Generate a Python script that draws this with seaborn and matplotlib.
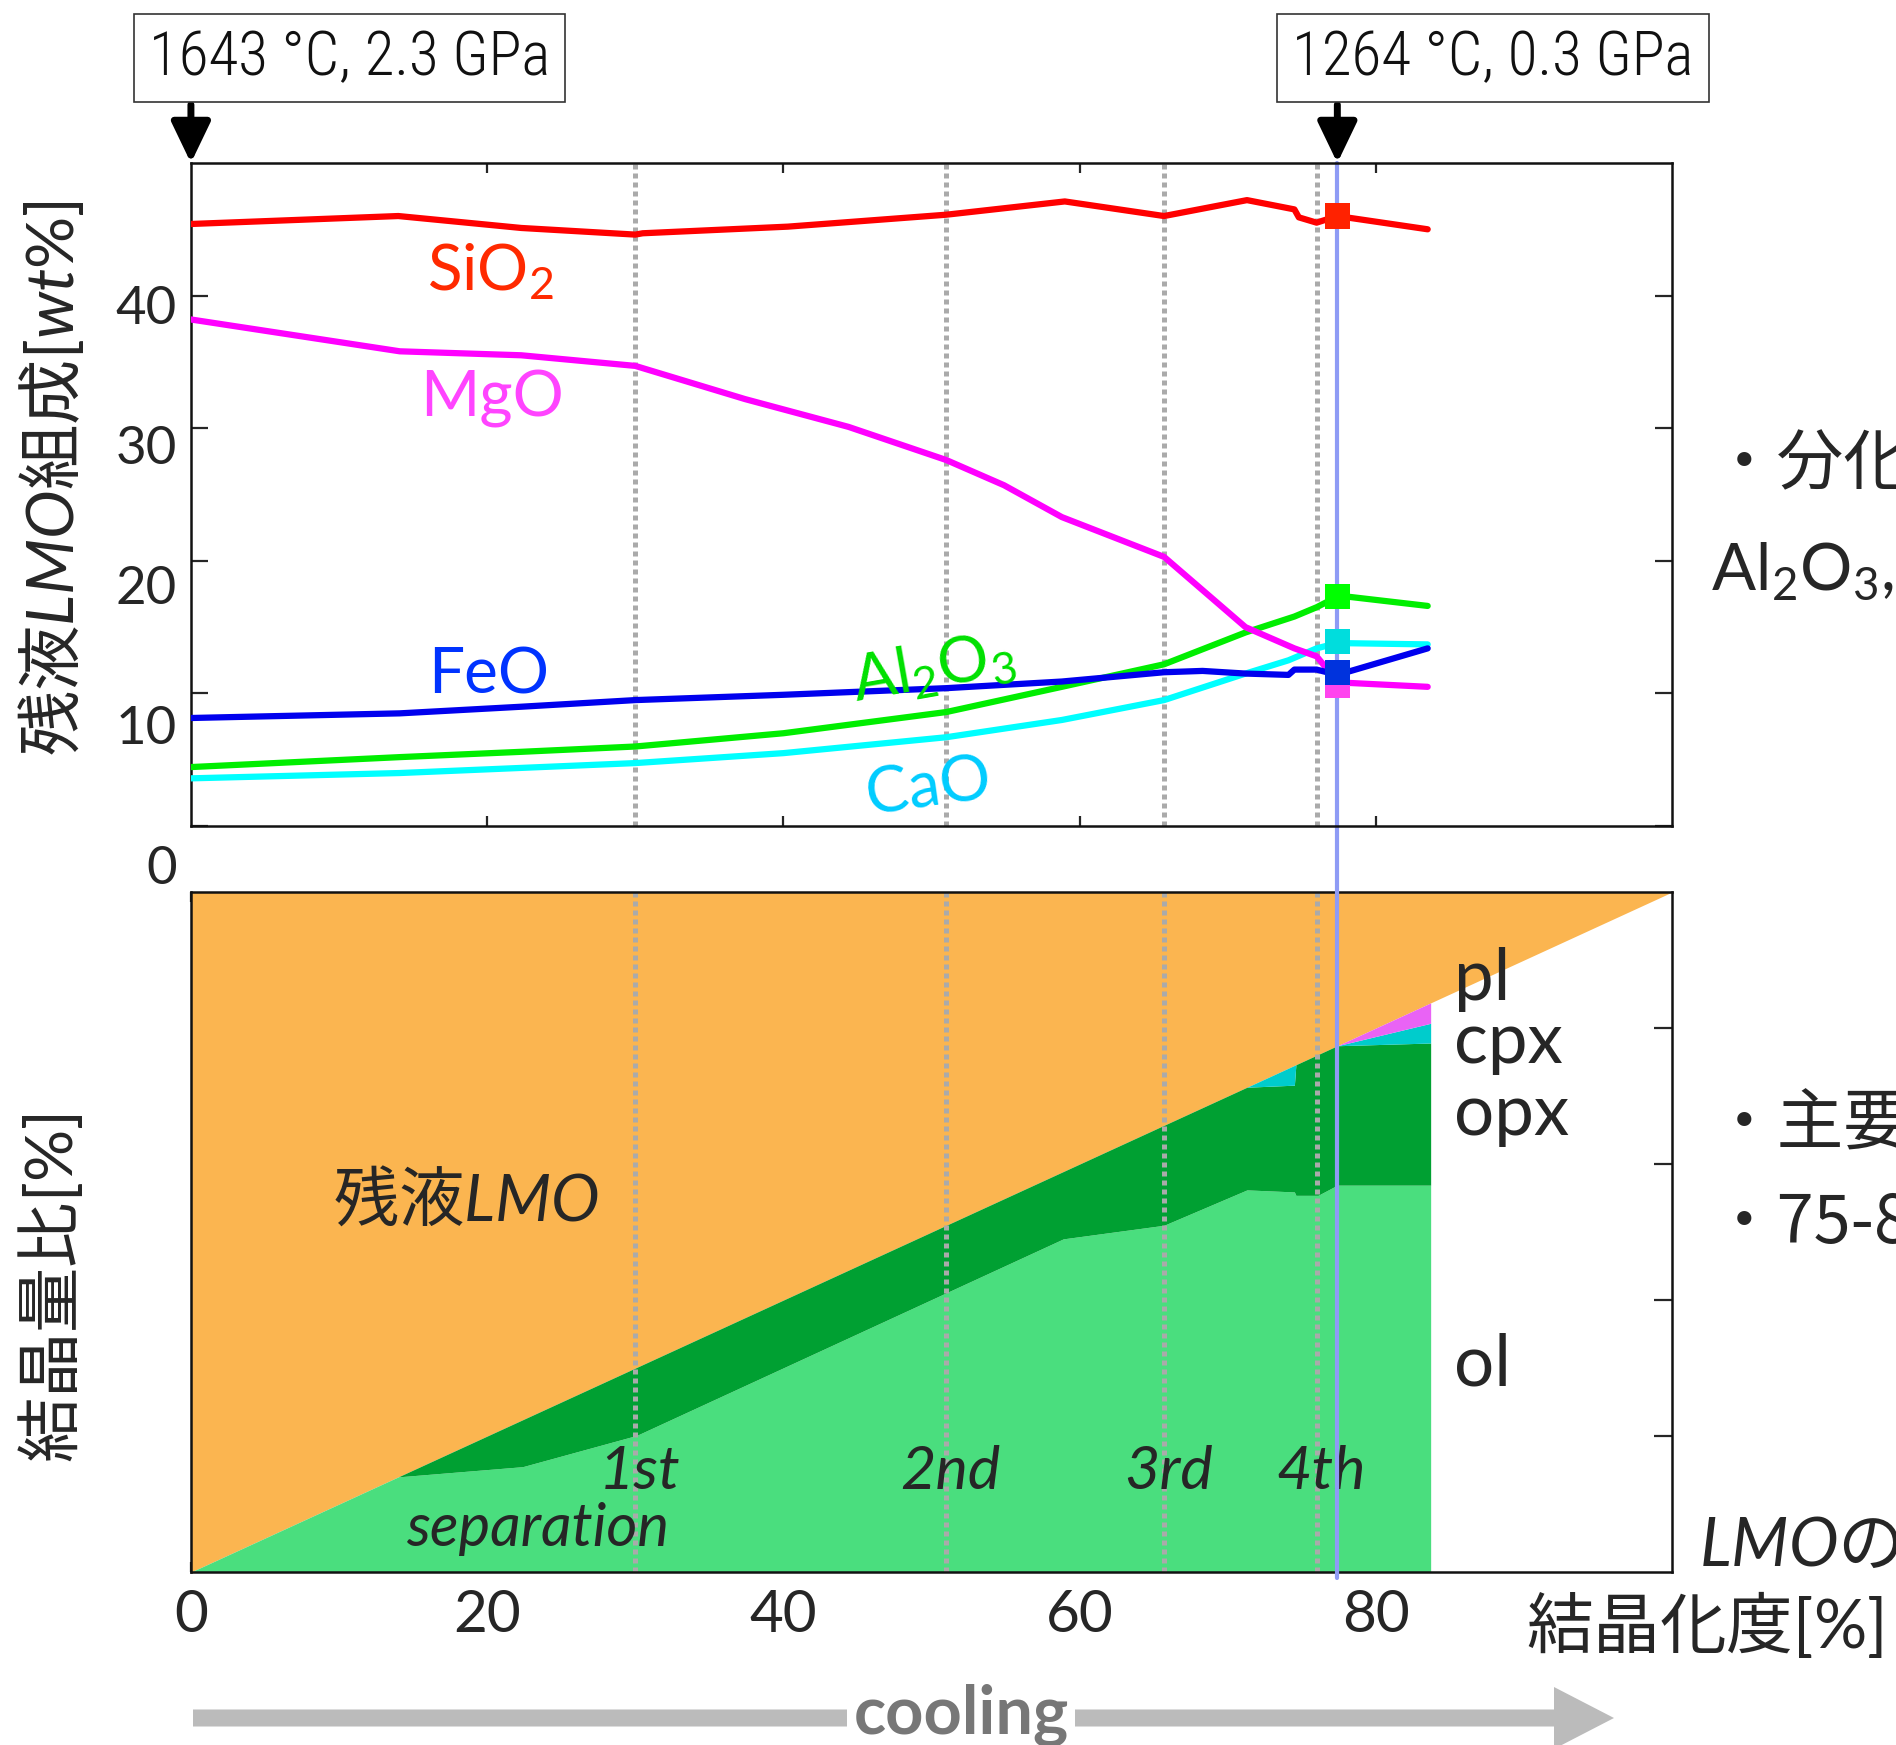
import numpy as np
import pandas as pd
import matplotlib
matplotlib.use("Agg")
import matplotlib.pyplot as plt
import matplotlib.transforms as mtransforms
from matplotlib import font_manager
from matplotlib.patches import FancyArrow
import seaborn as sns

# ------------------------------------------------------------------ data
# residual LMO composition [wt%] vs crystallisation degree [%]
sio2_x = [0, 14.0, 22.3, 30.0, 30.5, 40.3, 51.0, 59.0, 65.7, 71.3, 74.5, 74.8, 76.0, 77.4, 83.5]
sio2_y = [45.4, 46.0, 45.1, 44.6, 44.7, 45.2, 46.1, 47.1, 46.0, 47.2, 46.5, 45.9, 45.5, 46.0, 45.0]
mgo_x = [0, 14.1, 22.3, 30.0, 37.4, 44.4, 51.0, 54.9, 58.8, 65.7, 71.2, 74.5, 76.0, 77.4, 78.1, 83.5]
mgo_y = [38.2, 35.8, 35.5, 34.7, 32.2, 30.1, 27.6, 25.7, 23.3, 20.3, 15.0, 13.4, 12.8, 10.9, 10.8, 10.5]
feo_x = [0, 14.1, 22.3, 30.0, 40.0, 51.0, 58.8, 65.7, 68.3, 71.2, 74.1, 74.5, 76.0, 77.4, 83.5]
feo_y = [8.15, 8.5, 9.0, 9.5, 9.9, 10.4, 10.9, 11.6, 11.7, 11.5, 11.4, 11.8, 11.8, 11.4, 13.4]
al2o3_x = [0, 14.1, 22.3, 30.0, 40.0, 51.0, 58.8, 65.7, 71.2, 74.5, 76.0, 77.4, 78.1, 83.5]
al2o3_y = [4.45, 5.2, 5.6, 6.0, 7.0, 8.6, 10.5, 12.2, 14.6, 15.8, 16.5, 17.3, 17.3, 16.6]
cao_x = [0, 14.1, 30.0, 40.0, 51.0, 58.8, 65.7, 71.2, 74.1, 76.0, 77.4, 83.5]
cao_y = [3.6, 4.0, 4.75, 5.5, 6.7, 8.0, 9.5, 11.5, 12.5, 13.4, 13.8, 13.7]

oxides = ["SiO2", "Al2O3", "CaO", "MgO", "FeO"]
oxide_labels = [r"SiO$_2$", r"Al$_2$O$_3$", "CaO", "MgO", "FeO"]
line_colors = ["#ff0000", "#00ee00", "#00ffff", "#ff00ff", "#0000ee"]
text_colors = ["#ff2a00", "#00e000", "#00ccff", "#ff44ff", "#0033ff"]
marker_colors = ["#ff2200", "#00ff00", "#00dddd", "#ff44ee", "#0033dd"]
# composition at the final (4th separation) state
final_x = 77.4
final_wt = [46.0, 17.3, 13.9, 10.6, 11.6]

# crystal assemblage [% of LMO], stacked
cryst_x = [0, 14.0, 22.4, 30.1, 58.9, 65.7, 71.3, 74.5, 74.6, 76.1, 77.4, 83.7]
ol = [0, 14.0, 15.5, 20.1, 49.0, 51.0, 56.2, 55.9, 55.4, 55.4, 56.9, 56.9]
opx = [0, 0, 6.9, 10.0, 9.9, 14.7, 15.1, 15.7, 19.2, 20.7, 20.5, 20.9]
cpx = [0, 0, 0, 0, 0, 0, 0, 2.9, 0, 0, 0, 2.9]
pl = [0, 0, 0, 0, 0, 0, 0, 0, 0, 0, 0, 3.0]
minerals = ["ol", "opx", "cpx", "pl"]
mineral_colors = ["#4ade7e", "#00a032", "#00cccc", "#e963f5"]
# residual liquid: crystallisation degree == crystal fraction line
liq_x = [0, 100]
liq_bottom = [0, 100]
liq_color = "#fbb550"

# separation events
sep_x = [30.0, 51.0, 65.7, 76.0]
sep_labels = ["1st", "2nd", "3rd", "4th"]

# P-T annotations
pt_x = [0, final_x]
pt_labels = ["1643 °C, 2.3 GPa", "1264 °C, 0.3 GPa"]

top_yticks = [0, 10, 20, 30, 40]
bottom_xticks = [0, 20, 40, 60, 80]

# ------------------------------------------------------------------ style
sns.set_theme(style="ticks")
CJK = "Noto Sans CJK JP"
plt.rcParams["font.family"] = ["Lato", CJK, "DejaVu Sans"]
plt.rcParams["mathtext.fontset"] = "custom"
plt.rcParams["mathtext.rm"] = "Lato"
plt.rcParams["mathtext.sf"] = "Lato"
plt.rcParams["mathtext.it"] = "Lato:italic"
plt.rcParams["mathtext.bf"] = "Lato:bold"
plt.rcParams["axes.linewidth"] = 1.8
plt.rcParams["axes.edgecolor"] = "#111111"

available = {f.name for f in font_manager.fontManager.ttflist}
box_font, box_size, box_weight = "Lato", 37, "normal"
for cand, size, wt in [("Roboto Condensed", 44, "light"),
                       ("Liberation Sans Narrow", 42, "normal"),
                       ("Open Sans Condensed", 44, "light")]:
    if cand in available:
        box_font, box_size, box_weight = cand, size, wt
        break

fig = plt.figure(figsize=(18.96, 17.45), dpi=100)
ax1 = fig.add_axes([0.1007, 0.5266, 0.7812, 0.3800])
ax2 = fig.add_axes([0.1007, 0.0991, 0.7812, 0.3897])

# ------------------------------------------------------------------ top panel
series = {"SiO2": (sio2_x, sio2_y), "Al2O3": (al2o3_x, al2o3_y), "CaO": (cao_x, cao_y),
          "MgO": (mgo_x, mgo_y), "FeO": (feo_x, feo_y)}
rows = []
for ox in oxides:
    xs, ys = series[ox]
    for a, b in zip(xs, ys):
        rows.append({"oxide": ox, "x": a, "wt": b})
df = pd.DataFrame(rows)
sns.lineplot(data=df, x="x", y="wt", hue="oxide", hue_order=oxides,
             palette=dict(zip(oxides, line_colors)), estimator=None, sort=False,
             lw=4.5, legend=False, ax=ax1, zorder=3)

mk = pd.DataFrame({"oxide": oxides, "x": [final_x] * len(oxides), "wt": final_wt})
sns.scatterplot(data=mk, x="x", y="wt", hue="oxide", hue_order=oxides,
                palette=dict(zip(oxides, marker_colors)), marker="s", s=330,
                linewidth=0, legend=False, ax=ax1, zorder=6)

for sx in sep_x:
    ax1.axvline(sx, color="#aaaaaa", lw=3.6, ls=(0, (1.0, 0.8)), zorder=1)
    ax2.axvline(sx, color="#aaaaaa", lw=3.6, ls=(0, (1.0, 0.8)), zorder=3)

# continuous blue marker line across both panels
ax1.axvline(final_x, ymin=-1.134, ymax=1, color="#8e9bf5", lw=3, zorder=2, clip_on=False)

ax1.set_xlim(0, 100)
ax1.set_ylim(0, 50)
ax1.set_xticks([20, 40, 60, 80])
ax1.set_xticklabels([])
ax1.set_yticks(top_yticks)
ax1.set_yticklabels([str(v) for v in top_yticks], fontsize=38)
ax1.tick_params(axis="x", direction="in", top=True, bottom=True, length=7, width=1.6)
ax1.tick_params(axis="y", direction="in", left=True, right=True, length=12, width=1.6, pad=10)
for lbl, v in zip(ax1.get_yticklabels(), top_yticks):
    off = (9 + (40 - v) * 0.75) / 100.0
    lbl.set_transform(lbl.get_transform() + mtransforms.ScaledTranslation(0, -off, fig.dpi_scale_trans))
ax1.set_xlabel("")
ax1.set_ylabel("")
ax1.set_zorder(3)
ax1.patch.set_visible(False)

# oxide labels
lab_pos = {"SiO2": (20.2, 40.4, 0, "baseline"), "MgO": (20.3, 30.9, 0, "baseline"),
           "FeO": (20.1, 10.0, 0, "baseline"), "Al2O3": (50.1, 11.8, 10, "center"),
           "CaO": (49.8, 2.9, 8, "center")}
for ox, lab, col in zip(oxides, oxide_labels, text_colors):
    px, py, rot, va = lab_pos[ox]
    ax1.text(px, py, lab, color=col, fontsize=46, ha="center", va=va,
             rotation=rot, rotation_mode="anchor", zorder=7)

# P-T boxes with arrows
for xx, lab, bx in zip(pt_x, pt_labels, [10.7, 87.9]):
    ax1.annotate("", xy=(xx, 50), xytext=(xx, 54.4), xycoords="data",
                 arrowprops=dict(arrowstyle="-|>,head_length=25,head_width=12",
                                 color="black", lw=5, shrinkA=0, shrinkB=0,
                                 mutation_scale=1),
                 annotation_clip=False)
    ax1.text(bx, 57.9, lab, ha="center", va="center", fontsize=box_size,
             fontweight=box_weight, family=box_font, color="#111111", clip_on=False,
             bbox=dict(boxstyle="square,pad=0.25", fc="white", ec="#333333", lw=1.2))

# ------------------------------------------------------------------ bottom panel
ax2.fill_between(liq_x, liq_bottom, 100, color=liq_color, lw=0, zorder=1)
base = np.zeros(len(cryst_x))
for name, vals, col in zip(minerals, [ol, opx, cpx, pl], mineral_colors):
    top = base + np.array(vals)
    ax2.fill_between(cryst_x, base, top, color=col, lw=0, zorder=2)
    base = top

ax2.set_xlim(0, 100)
ax2.set_ylim(0, 100)
ax2.set_xticks(bottom_xticks)
ax2.set_xticklabels([str(v) for v in bottom_xticks], fontsize=42)
ax2.set_yticks([20, 40, 60, 80])
ax2.set_yticklabels([])
ax2.tick_params(axis="x", direction="in", top=True, bottom=True, length=7, width=1.6, pad=12)
ax2.tick_params(axis="y", direction="in", left=True, right=True, length=13, width=1.6)
for sp in ax2.spines.values():
    sp.set_zorder(5)

# separation labels
for sx, lab in zip(sep_x, sep_labels):
    ax2.text(sx + 0.3, 14.7, lab, fontsize=44, fontstyle="italic", ha="center",
             va="center", zorder=6)
ax2.text(23.4, 6.3, "separation", fontsize=43, fontstyle="italic", ha="center",
         va="center", zorder=6)
ax2.text(18.6, 54.3, r"残液$\mathit{LMO}$", fontsize=47, ha="center", va="center",
         family=CJK, zorder=6)

# mineral labels
for name, yb in zip(minerals, [27.5, 64.3, 74.9, 84.1]):
    ax2.text(85.3, yb, name, fontsize=51, ha="left", va="baseline", clip_on=False)

# ------------------------------------------------------------------ figure texts
fig.text(54 / 1896, 1 - 478 / 1745, r"残液$\mathit{LMO}$組成$\mathit{[wt\%]}$",
         rotation=90, ha="center", va="center", fontsize=47, family=CJK)
fig.text(54 / 1896, 1 - 1288 / 1745, r"結晶量比$\mathit{[\%]}$",
         rotation=90, ha="center", va="center", fontsize=47, family=CJK)
fig.text(1699 / 1896, 1 - 1547 / 1745, r"$\mathit{LMO}$の", ha="left", va="center",
         fontsize=48, family=CJK)
fig.text(1526 / 1896, 1 - 1628 / 1745, r"結晶化度$\mathit{[\%]}$", ha="left", va="center",
         fontsize=48, family=CJK)

# side notes (cut by the right edge, as in the original slide)
fig.text(1711 / 1896, 1 - 466 / 1745, "・分化", ha="left", va="center", fontsize=48, family=CJK)
fig.text(1711 / 1896, 1 - 590 / 1745, r"Al$_2$O$_3$,", ha="left", va="baseline", fontsize=47)
fig.text(1711 / 1896, 1 - 1126 / 1745, "・主要", ha="left", va="center", fontsize=48, family=CJK)
fig.text(1711 / 1896, 1 - 1224 / 1745, "・75-8", ha="left", va="center", fontsize=48, family=CJK)

# cooling arrow
fig.add_artist(FancyArrow(193 / 1896, 1 - 1718 / 1745, (1614 - 193) / 1896, 0,
                          width=17 / 1745, head_width=62 / 1745, head_length=60 / 1896,
                          length_includes_head=True, transform=fig.transFigure,
                          color="#bbbbbb", lw=0))
fig.text(961 / 1896, 1 - 1734 / 1745, "cooling", ha="center", va="baseline",
         color="#777777", fontsize=48, fontweight="bold",
         bbox=dict(boxstyle="square,pad=0.1", fc="white", ec="none"))

fig.savefig("out.png", dpi=100)
